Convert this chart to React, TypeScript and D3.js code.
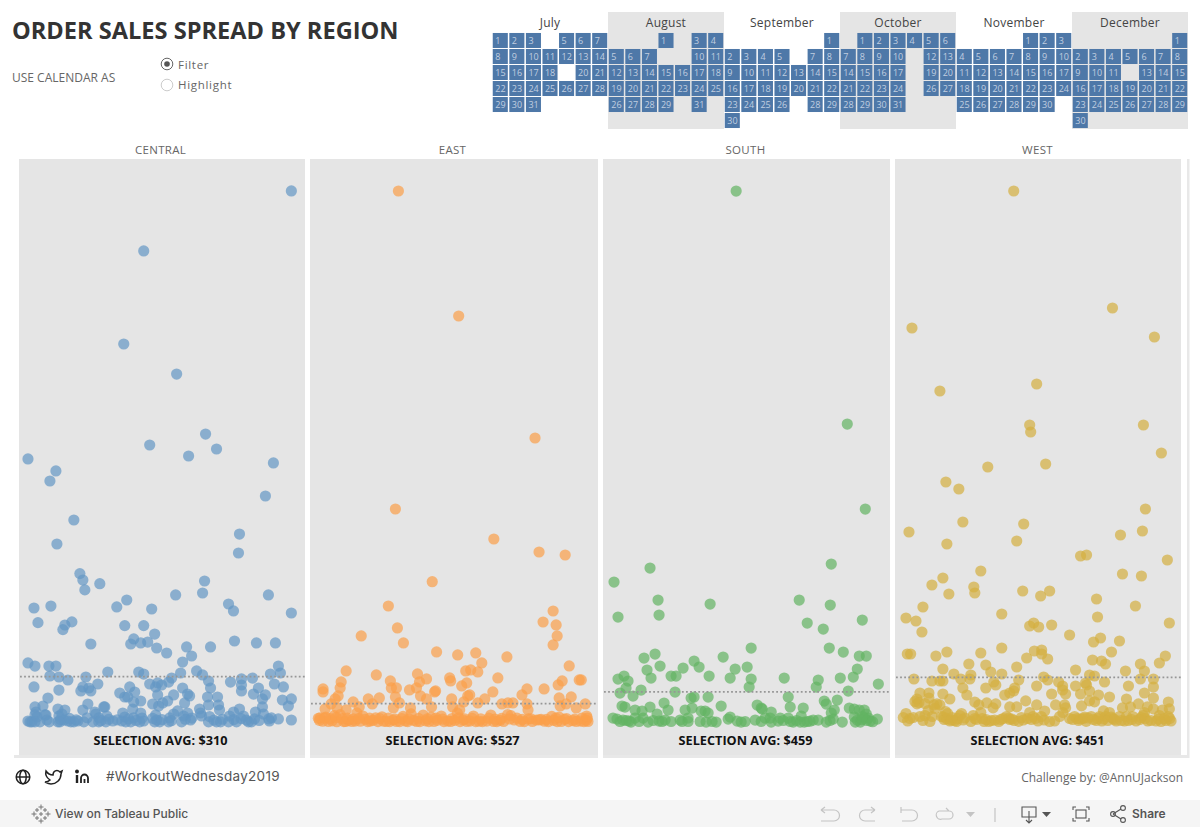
import React from "react";
import * as d3 from "d3";

type Pt = [number, number]; // [jitter, sales in $]

const regions = ["CENTRAL", "EAST", "SOUTH", "WEST"];
const averages = [310, 527, 459, 451];
const axisMax = [3591, 14896, 7980, 5320];
const jitterMax = 860;
const monthNames = ["July", "August", "September", "October", "November", "December"];
const calendarYear = 2018;
const firstMonth = 6;
const unselectedDays = [[4, 19], [2, 8, 9, 30], [6, 27], [11, 18, 25], [], [12, 31]];

const centralPoints: Pt[] = [
[819,3588],[375,3183],[315,2555],[474,2352],[393,1873],[561,1947],[594,1846],[510,1799],[27,1779],[111,1698],[93,1630],[765,1752],[741,1529],[165,1367],[114,1205],[663,1272],[660,1144],
[183,1005],[192,962],[198,895],[243,937],[45,773],[96,786],[57,674],[132,627],[138,658],[159,679],[216,530],[294,780],[324,827],[318,654],[375,654],[399,766],[408,597],[345,564],[336,530],[366,537],[387,543],[414,503],[444,469],[471,861],[552,874],[558,955],[630,800],[645,753],[750,861],[819,739],[648,550],[714,537],[771,537],[504,510],[576,510],[519,449],[492,408],[27,402],[48,381],[90,381],[111,381],[486,334],[534,348],[552,321],[780,381],[756,327],[786,334],[768,260],[795,240],[360,341],[375,327],[267,341],[201,307],[120,307],[93,314],[147,287],[45,240],[120,219],[237,260],[192,240],[210,233],[186,213],[216,213],[393,260],[417,267],[411,240],[429,253],[459,300],[450,273],[333,240],[303,199],[348,206],[318,172],[327,172],[417,186],[465,186],[492,233],[507,192],[513,179],[570,280],[576,233],[636,273],[669,294],[669,253],[669,213],[702,300],[720,233],[705,192],[741,186],[732,159],[597,172],[567,172],[87,165],[72,111],[48,105],[51,71],[117,91],[138,84],[207,125],[192,84],[228,71],[255,105],[258,105],[366,145],[345,138],[342,91],[312,64],[402,125],[420,111],[432,132],[447,145],[498,132],[477,78],[507,64],[543,91],[570,118],[546,64],[600,118],[603,84],[792,152],[819,159],[810,111],[732,105],[711,71],[735,57],[663,91],[645,71],[81,51],[48,51],
[27,10],[33,4],[39,4],[54,37],[63,4],[78,51],[84,17],[117,4],[120,44],[129,57],[135,17],[147,10],[156,4],[165,4],[177,10],[195,4],[222,4],[231,57],[240,31],[261,4],[264,44],[282,10],[309,10],[318,37],[336,4],[345,31],[363,4],[375,10],[366,64],[408,4],[411,51],[423,4],[450,4],[453,31],[465,57],[489,4],[495,44],[516,17],[549,44],[570,4],[594,4],[606,4],[630,4],[654,4],[633,44],[675,44],[690,4],[708,24],[751,24],[759,31],[780,24],[819,17],[414,17],[240,4],[123,4],[48,4],[573,40],[91,4],[321,4],[699,4],[753,10],
[125,20],[152,28],[172,18],[205,32],[246,12],[270,22],[295,18],[330,25],[352,14],[370,30],[402,28],[430,20],[458,12],[500,22],[520,30],[586,16],[612,22],[646,20],[668,26],[684,16],[722,14],
];

const eastPoints: Pt[] = [
[264,14882],[444,11382],[672,7966],[255,5978],[549,5138],[684,4774],[762,4690],
[365,3943],[234,3262],[261,2647],[153,2423],[279,2227],[378,1975],[441,1891],[495,1947],[513,1667],[588,1835],[696,2814],[726,3122],[735,2731],[738,2423],[726,2171],[774,1583],[108,1443],[198,1331],[321,1359],[240,1163],[327,1135],[348,1219],[417,1247],[420,1163],[465,1443],[480,1471],[501,1415],[468,1107],[453,1023],[561,1247],[753,1163],[741,1051],[804,1191],[810,1191],[699,939],[648,939],[633,771],[546,855],[522,659],[477,771],[471,743],[423,659],[375,883],[372,855],[297,911],[318,967],[330,743],[348,659],[243,967],[258,967],[255,715],[207,687],[174,659],[93,1135],[90,967],[39,939],[39,855],[84,743],[75,659],[129,575],[780,715],[744,687],[822,519],[795,407],[747,463],[765,519],[648,519],[651,351],[573,519],[591,547],[606,547],[501,547],[459,575],[426,435],[447,351],[363,435],[267,547],[249,407],[300,407],[186,519],[147,435],[45,379],[63,519],[81,407],[108,351],
[25,118],[28,60],[38,35],[47,150],[55,30],[66,45],[72,190],[80,22],[90,220],[101,25],[107,28],[115,60],[125,30],[135,40],[140,270],[150,35],[158,180],[165,90],[172,25],[180,40],[188,60],[196,130],[203,25],[215,160],[220,35],[228,30],[238,25],[248,70],[258,30],[268,25],[278,170],[285,40],[292,25],[302,240],[310,60],[318,30],[328,25],[338,210],[345,45],[355,25],[362,150],[370,30],[380,60],[392,180],[400,25],[412,40],[420,30],[432,60],[440,260],[448,25],[458,70],[468,30],[478,40],[488,180],[495,25],[505,35],[515,25],[528,40],[540,210],[548,30],[558,25],[568,60],[578,30],[590,220],[600,190],[610,70],[618,120],[628,30],[640,25],[652,100],[664,30],[676,70],[690,90],[700,35],[712,25],[722,170],[728,60],[738,25],[750,30],[760,90],[772,25],[785,50],[795,30],[808,40],[818,25],[825,60],[828,120],[830,30],
[30,130],[44,120],[60,110],[78,140],[96,110],[112,120],[130,100],[146,115],[178,120],[208,110],[234,125],[254,95],[274,110],[296,100],[324,115],[350,105],[376,125],[396,95],[424,110],[444,130],[462,105],[484,115],[510,100],[534,120],[552,95],[572,115],[596,100],[634,90],[660,105],[684,75],[706,85],[734,120],[744,150],[766,110],[790,95],[812,125],[826,180],
];

const southPoints: Pt[] = [
[399,7972],[732,4477],[786,3202],
[684,2377],[141,2317],[33,2107],[165,1837],[168,1612],[45,1582],[321,1777],[588,1837],[681,1762],[612,1492],[660,1402],[777,1537],[678,1117],[720,1057],[444,1117],[156,1027],[123,967],[132,787],[171,847],[144,667],[63,697],[45,652],[75,622],[69,517],[51,442],[90,397],[114,487],[204,697],[219,697],[240,817],[273,922],[288,832],[318,697],[216,457],[360,982],[396,802],[381,667],[432,832],[444,652],[438,532],[543,667],[645,637],[639,532],[711,667],[750,682],[762,802],[768,997],[789,997],[825,577],[735,472],[555,382],[561,232],[600,217],[702,337],[663,322],[669,277],[693,187],[684,142],[315,382],[264,367],[273,382],[354,247],[267,217],[183,292],[195,187],[141,232],[57,247],[66,232],[246,187],[294,172],[306,172],[315,142],[462,262],[474,217],[477,202],[504,157],[96,187],[117,172],[162,127],[738,217],[753,202],[768,187],[783,187],[789,127],[795,67],
[30,67],[42,52],[51,15],[60,37],[78,22],[84,7],[96,67],[108,15],[120,67],[135,7],[168,22],[177,15],[186,37],[204,15],[231,37],[237,15],[255,67],[255,15],[291,15],[309,7],[327,15],[339,7],[375,52],[381,82],[402,22],[414,7],[426,15],[456,37],[474,15],[486,67],[504,7],[501,67],[525,22],[531,67],[555,67],[561,15],[570,7],[591,7],[594,97],[612,15],[630,37],[645,37],[669,7],[690,52],[717,7],[753,82],[756,7],[771,7],[783,67],[801,22],[822,52],[603,7],
[762,37],[776,42],[790,30],[808,12],[777,90],[70,30],[150,30],[540,30],[580,30],[620,20],[680,30],
];

const westPoints: Pt[] = [
[357,5315],[654,4145],[51,3945],[780,3855],[135,3315],[426,3385],[405,2975],[408,2905],[747,2975],[801,2695],[453,2585],[279,2555],[153,2405],[192,2335],[204,2005],[387,1985],[42,1905],[366,1815],[156,1785],[744,1915],[753,2135],[678,1875],[558,1665],[576,1675],
[819,1625],[258,1515],[144,1445],[111,1375],[162,1285],[237,1355],[240,1295],[384,1315],[438,1265],[465,1315],[684,1485],[741,1465],[606,1235],[723,1165],[84,1155],[321,1085],[609,1055],[825,995],[33,1045],[63,1015],[81,905],[405,965],[417,995],[432,955],[471,975],[525,875],[597,805],[618,845],[675,815],[651,705],[37,685],[47,685],[123,665],[156,705],[258,695],[321,745],[396,645],[419,715],[441,725],[441,685],[459,635],[594,625],[621,615],[633,585],[813,665],[795,595],[738,585],[750,515],[693,515],[543,525],[366,555],[222,585],[273,575],[288,505],[144,535],[177,485],[228,475],[225,435],[198,435],[321,485],[57,435],[111,415],[135,415],[144,415],[297,405],[303,375],[372,425],[447,455],[459,425],[585,475],[600,465],[630,405],[738,435],[777,435],[777,355],[702,365],[492,405],[504,365],[543,365],[573,395],[576,375],[426,365],[360,345],[273,345],[204,345],[216,275],[144,285],[75,295],[102,295],[165,235],[102,245],[66,235],[750,295],[777,245],[645,255],[612,275],[585,315],[558,285],[513,285],[471,285],[504,325],[357,315],[345,295],[330,275],[696,235],[822,205],
[25,50],[33,90],[38,15],[45,40],[55,50],[66,186],[75,60],[84,20],[90,70],[100,120],[105,10],[112,60],[117,176],[126,186],[135,176],[140,60],[148,30],[152,110],[158,90],[165,15],[172,50],[180,20],[185,10],[195,70],[200,90],[210,45],[228,10],[235,70],[240,205],[245,30],[252,176],[258,100],[268,10],[276,196],[282,10],[290,20],[295,146],[303,186],[312,10],[325,40],[335,60],[345,30],[345,156],[358,20],[366,156],[372,12],[380,50],[393,216],[398,40],[405,100],[415,60],[426,176],[430,15],[440,60],[450,115],[465,10],[480,15],[483,176],[495,60],[505,100],[510,176],[513,146],[525,40],[540,60],[552,20],[561,166],[566,40],[575,12],[585,216],[590,60],[600,207],[605,20],[615,60],[622,15],[627,116],[634,60],[645,100],[655,40],[665,15],[675,60],[684,146],[690,15],[702,20],[708,156],[715,60],[725,15],[732,186],[740,50],[750,100],[760,15],[759,156],[777,136],[785,15],[795,70],[800,10],[804,125],[815,20],[825,136],[822,60],[830,15],
[60,210],[72,200],[90,190],[120,140],[146,55],[156,35],[170,25],[188,40],[205,25],[240,40],[262,40],[274,30],[300,25],[318,30],[342,45],[352,35],[386,25],[410,30],[422,40],[448,25],[534,30],[548,40],[558,35],[570,55],[580,45],[596,30],[610,40],[628,35],[640,20],[650,55],[660,30],[680,20],[696,60],[712,30],[736,30],[746,70],[752,40],[770,20],[792,35],[810,40],[826,40],
];

const seriesPoints = [centralPoints, eastPoints, southPoints, westPoints];
const dotColors = ["#6497c4", "#fb9f4a", "#62b462", "#d4af40"];

const panelEdges: [number, number][] = [[19, 305], [310, 598], [603, 890], [895, 1181]];
const labelCenters = [160.5, 452.5, 745.5, 1037.5];
const plotTop = 190.5;
const plotBottom = 722.5;
const sans = "'Open Sans', 'Noto Sans', sans-serif";

const monthBand = d3.scaleBand<number>().domain(d3.range(6)).range([492, 1188]);
const dayBand = d3.scaleBand<number>().domain(d3.range(42)).range([492, 1188]).paddingInner(0.09).paddingOuter(0.045);
const weekBand = d3.scaleBand<number>().domain(d3.range(6)).range([32.5, 128.5]).paddingInner(0.0625).paddingOuter(0.03);

function Calendar() {
  return (
    <g>
      {monthNames.map((name, m) => {
        const x0 = monthBand(m)!;
        const start = new Date(calendarYear, firstMonth + m, 1);
        const days = d3.timeDay.range(start, new Date(calendarYear, firstMonth + m + 1, 1));
        return (
          <g key={name}>
            {m % 2 === 1 && <rect x={x0} y={12} width={monthBand.bandwidth()} height={117} fill="#e5e5e5" />}
            <text x={x0 + monthBand.bandwidth() / 2} y={27} textAnchor="middle" fontSize={12} letterSpacing={0.25} fill="#444" fontFamily={sans}>{name}</text>
            {days.map((d) => {
              const day = d.getDate();
              if (unselectedDays[m].includes(day)) return null;
              const col = m * 7 + d.getDay();
              const row = d3.timeWeek.count(start, d);
              const x = dayBand(col)!;
              const y = weekBand(row)!;
              return (
                <g key={day}>
                  <rect x={x} y={y} width={dayBand.bandwidth()} height={weekBand.bandwidth()} fill="#4e78a8" />
                  <text x={x + 2.5} y={y + 11} fontSize={9} fill="#c0cee0" fontFamily={sans}>{day}</text>
                </g>
              );
            })}
          </g>
        );
      })}
    </g>
  );
}

function Panel({ i }: { i: number }) {
  const [x0, x1] = panelEdges[i];
  const xs = d3.scaleLinear().domain([0, jitterMax]).range([x0, x1]);
  const ys = d3.scaleLinear().domain([0, axisMax[i]]).range([plotBottom, plotTop]);
  const cx = labelCenters[i];
  return (
    <g>
      <text x={cx} y={154} textAnchor="middle" fontSize={11.5} fill="#666" letterSpacing={0.3} fontFamily={sans}>{regions[i]}</text>
      <rect x={x0} y={159} width={x1 - x0} height={596} fill="#e5e5e5" />
      {seriesPoints[i].map(([j, s], k) => (
        <circle key={k} cx={xs(j)} cy={ys(s)} r={5.6} fill={dotColors[i]} fillOpacity={0.7} />
      ))}
      <line x1={x0 + 1} x2={x1} y1={ys(averages[i])} y2={ys(averages[i])} stroke="#969696" strokeWidth={1.8} strokeDasharray="1.8 2.3" />
      <text x={cx} y={745} textAnchor="middle" fontSize={12.7} fontWeight={700} fill="#111" fontFamily={sans}>
        {`SELECTION AVG: ${d3.format("$,")(averages[i])}`}
      </text>
    </g>
  );
}

function Footer() {
  return (
    <g>
      <rect x={14} y={755} width={1174} height={3} fill="#e8e8e8" />
      {panelEdges.slice(0, 3).map(([, r]) => <rect key={r} x={r} y={159} width={5} height={599} fill="#fff" />)}
      <rect x={1187} y={159} width={2.5} height={599} fill="#e8e8e8" />
      <g fill="none" stroke="#222" strokeWidth={1.5}>
        <circle cx={23} cy={777} r={6.8} />
        <ellipse cx={23} cy={777} rx={3.2} ry={6.8} />
        <path d="M16.2 777h13.6" />
        <path d="M46 771c2 3 4 4 7 4 0-4 4-6 7-3l2-1-1 3c0 6-5 10-10 10-2 0-4-1-6-2 2 0 4-1 5-2-3-2-5-5-4-9z" />
        <path d="M77 775v8" strokeWidth={2.4} />
        <circle cx={77} cy={771.5} r={1.2} fill="#222" />
        <path d="M81 783v-5a3 3 0 0 1 7 0v5M84.5 783v-4" strokeWidth={1.8} />
      </g>
      <text x={106} y={781} fontSize={13.5} letterSpacing={0.3} fill="#555" fontFamily="Inter, sans-serif">#WorkoutWednesday2019</text>
      <text x={1183} y={782} textAnchor="end" fontSize={12} fill="#666" fontFamily={sans}>Challenge by: @AnnUJackson</text>
      <rect x={0} y={800} width={1200} height={27} fill="#f5f5f5" />
      <g stroke="#777" strokeWidth={1} fill="none">
        {[[34, 814], [48, 814], [41, 807], [41, 821]].map(([a, b], k) => <path key={k} d={`M${a - 2.5} ${b}h5M${a} ${b - 2.5}v5`} />)}
        {[[37, 810], [45, 810], [37, 818], [45, 818], [41, 814]].map(([a, b], k) => <path key={k} d={`M${a - 2} ${b}h4M${a} ${b - 2}v4`} />)}
      </g>
      <text x={55} y={818} fontSize={12} fontWeight={500} fill="#555" fontFamily="Inter, sans-serif">View on Tableau Public</text>
      <g stroke="#c4c4c4" strokeWidth={1.2} fill="none">
        <path d="M821 810h13a5.5 5.5 0 0 1 0 11h-13M821 810l4-3M821 810l4 3" />
        <path d="M875 810h-10a5.5 5.5 0 0 0 0 11h10M875 810l-4-3M875 810l-4 3" />
        <path d="M901 807v6M901 810h11a5.5 5.5 0 0 1 0 11h-10" />
        <path d="M939 811h10a4 4 0 0 1 0 8h-7a4 4 0 0 1-3-8zM949 811l-3-3" />
        <path d="M995 808v14" />
      </g>
      <path d="M966 812h9l-4.5 5z" fill="#c4c4c4" />
      <g stroke="#555" strokeWidth={1.1} fill="none">
        <path d="M1022 807h14v10h-14zM1029 811v12M1026 820l3 3 3-3" />
        <path d="M1073 810v-3h3M1089 810v-3h-3M1073 818v3h3M1089 818v3h-3" />
        <rect x={1076} y={810} width={10} height={8} />
        <path d="M1113 814l8-5M1113 814l8 5" />
        <circle cx={1113} cy={814} r={2.4} />
        <circle cx={1123} cy={808} r={2.4} />
        <circle cx={1123} cy={820} r={2.4} />
      </g>
      <path d="M1042 812h9l-4.5 5z" fill="#555" />
      <text x={1132} y={818} fontSize={12} fontWeight={600} fill="#555" fontFamily="Inter, sans-serif">Share</text>
    </g>
  );
}

export default function App() {
  return (
    <svg width={1200} height={827} style={{ position: "absolute", left: 0, top: 0, background: "#fff" }}>
      <text x={12} y={39} fontSize={23.6} fontWeight={700} fill="#333" fontFamily={sans}>ORDER SALES SPREAD BY REGION</text>
      <text x={12} y={82} fontSize={12} fill="#666" fontFamily={sans}>USE CALENDAR AS</text>
      <circle cx={167} cy={64} r={5.8} fill="#fff" stroke="#666" />
      <circle cx={167} cy={64} r={2.8} fill="#555" />
      <circle cx={167} cy={85} r={5.8} fill="#fff" stroke="#ccc" />
      <text x={178} y={69} fontSize={11.5} letterSpacing={0.7} fill="#666" fontFamily={sans}>Filter</text>
      <text x={178} y={89} fontSize={11.5} letterSpacing={0.7} fill="#666" fontFamily={sans}>Highlight</text>
      <Calendar />
      {regions.map((_, i) => <Panel key={i} i={i} />)}
      <Footer />
    </svg>
  );
}
